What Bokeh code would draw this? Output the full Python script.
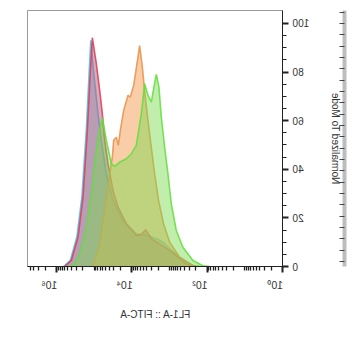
from bokeh.plotting import figure
from bokeh.models import (FixedTicker, LinearAxis, Range1d)
from bokeh.embed import file_html
from bokeh.resources import INLINE

# ---- data (FL1-A intensity, % of mode) ----
cyan_x = [6.5e5, 4.3e5, 2.88e5, 2.12e5, 1.62e5, 1.35e5, 1.23e5, 1.07e5, 7.9e4, 6.5e4,
          4.75e4, 3.16e4, 1.72e4, 7.62e3, 4.13e3, 2.24e3, 1.49e3, 990, 540, 239, 158]
cyan_y = [0, 2.5, 12.1, 28.5, 56, 80.7, 93, 82, 62.8, 51.9,
          38.1, 27.2, 18.9, 13.4, 12.8, 11.4, 10, 7.3, 3.8, 0.4, 0]

red_x = [6.05e5, 4.04e5, 2.69e5, 1.98e5, 1.52e5, 1.26e5, 1.12e5, 8.77e4, 7.14e4, 6.07e4,
         5.26e4, 4.30e4, 3.16e4, 2.33e4, 1.40e4, 7.62e3, 5.61e3, 4.31e3, 3.05e3, 1.83e3,
         990, 359, 195]
red_y = [0, 2.5, 12.1, 28.5, 56, 80.7, 94.1, 83.4, 72.4, 62.8,
         51.9, 42.3, 31.3, 24.4, 17.6, 12.8, 13.2, 15.1, 11.4, 9.3,
         6.6, 1.1, 0]

orange_x = [1.07e5, 7.14e4, 4.75e4, 3.88e4, 3.30e4, 3.04e4, 2.58e4, 2.29e4, 2.02e4, 1.65e4,
            1.27e4, 1.10e4, 8.95e3, 7.31e3, 6.21e3, 5.27e3, 4.49e3, 3.73e3, 3.05e3, 2.48e3,
            1.95e3, 1.44e3, 990, 540, 239, 158]
orange_y = [0, 9.3, 28.5, 38.1, 45, 51.9, 53.2, 49.8, 56, 64.2,
            70.4, 69.7, 74.5, 83.4, 90.9, 82, 71, 60.1, 49.1, 38.1,
            27.2, 17.6, 10, 3.8, 0.3, 0]

green_x = [4.47e5, 3.29e5, 2.43e5, 1.61e5, 1.19e5, 9.70e4, 7.91e4, 6.07e4, 4.75e4, 3.51e4,
           2.86e4, 2.11e4, 1.40e4, 1.03e4, 7.62e3, 5.61e3, 4.57e3, 3.73e3, 3.05e3, 2.59e3,
           2.24e3, 1.91e3, 1.65e3, 1.35e3, 1.10e3, 897, 661, 441, 239, 130, 86]
green_y = [0, 1.1, 5.2, 16.2, 29.9, 42.3, 53.2, 61.2, 51.9, 42.3,
           41.2, 42.9, 44.3, 46.4, 49.8, 62.8, 75.2, 70.4, 67.6, 73.8,
           79, 73.8, 61.4, 49.1, 38.1, 25.8, 14.8, 7.9, 2.5, 0.3, 0]

x_labeled = [1, 100, 1e4, 1e6]
x_label_text = ["10\u2070", "10\u00b2", "10\u2074", "10\u2076"]
x_unlabeled = [10, 1e3, 1e5]
y_major = [0, 20, 40, 60, 80, 100]

series = [
    (cyan_x, cyan_y, "#7fcbe6", "#45bde6", 0.55),
    (red_x, red_y, "#b8587a", "#e03a55", 0.5),
    (orange_x, orange_y, "#f4a460", "#e89048", 0.55),
    (green_x, green_y, "#7ada4c", "#62de3c", 0.46),
]

FONT = "Liberation Sans"
PAD = "\u2007\u2007\u2008"   # puts the label's start at its tick, as in the reference

p = figure(width=359, height=359, x_axis_type="log",
           x_range=Range1d(1, 5.9e6), y_range=Range1d(0, 105.3),
           output_backend="svg", toolbar_location=None,
           min_border_left=76, min_border_right=28, min_border_top=10, min_border_bottom=93,
           background_fill_color="white", border_fill_color="white")
p.styles = {"transform": "scaleX(-1)"}   # the reference is a mirrored picture
p.grid.visible = False
p.outline_line_color = "#9a9a9a"
p.outline_line_width = 1

for xs, ys, fc, lc, fa in series:
    p.varea(x=xs, y1=[0] * len(xs), y2=ys, fill_color=fc, fill_alpha=fa)
    p.line(x=xs, y=ys, line_color=lc, line_width=1.6, line_alpha=0.85)

minor = list(x_unlabeled)
for k in range(0, 7):
    for m in range(2, 10):
        v = m * 10 ** k
        if v < 5.9e6:
            minor.append(v)

xa = p.xaxis[0]
xa.ticker = FixedTicker(ticks=x_labeled, minor_ticks=minor)
xa.major_label_overrides = {t: PAD + s for t, s in zip(x_labeled, x_label_text)}
xa.axis_label = "FL1-A :: FITC-A"
xa.axis_label_text_font = FONT
xa.axis_label_text_font_style = "normal"
xa.axis_label_text_font_size = "10px"
xa.axis_label_text_color = "#333333"
xa.axis_label_standoff = 15
xa.major_label_text_font = FONT
xa.major_label_text_font_size = "10.5px"
xa.major_label_text_color = "#333333"
xa.major_label_standoff = 6
xa.major_tick_out = 6
xa.major_tick_in = 0
xa.minor_tick_out = 4
xa.minor_tick_in = 0
xa.major_tick_line_width = 2
xa.minor_tick_line_width = 1.3
xa.axis_line_color = "#222222"
xa.major_tick_line_color = "#222222"
xa.minor_tick_line_color = "#222222"

ya = p.yaxis[0]
ya.ticker = FixedTicker(ticks=y_major, minor_ticks=[v for v in range(0, 105, 5) if v % 20])
ya.axis_label = "Normalized To Mode"
ya.axis_label_text_font = FONT
ya.axis_label_text_font_style = "normal"
ya.axis_label_text_font_size = "10px"
ya.axis_label_text_color = "#333333"
ya.axis_label_standoff = 18
ya.major_label_text_font = FONT
ya.major_label_text_font_size = "10px"
ya.major_label_text_color = "#333333"
ya.major_label_standoff = 4
ya.major_tick_out = 6
ya.major_tick_in = 0
ya.minor_tick_out = 4
ya.minor_tick_in = 0
ya.major_tick_line_width = 2
ya.axis_line_color = "#222222"
ya.major_tick_line_color = "#222222"
ya.minor_tick_line_color = "#222222"

# invisible spacer, then the ruler strip at the outer edge
spacer = LinearAxis(ticker=FixedTicker(ticks=[50]), major_tick_out=0, minor_tick_out=0,
                    major_tick_in=0, minor_tick_in=0, axis_line_color=None,
                    major_tick_line_color=None, minor_tick_line_color=None,
                    major_label_text_color=None, major_label_text_font_size="1px",
                    major_label_standoff=0)
p.add_layout(spacer, "left")

p.extra_y_ranges = {"ruler": Range1d(0.312, 4.827)}
ruler_marks = [i / 5 for i in range(2, 25)]
ruler = LinearAxis(y_range_name="ruler",
                   ticker=FixedTicker(ticks=[], minor_ticks=ruler_marks),
                   axis_line_color="#bdbdbd", axis_line_width=4,
                   major_tick_in=0, major_tick_out=0, minor_tick_in=5, minor_tick_out=0,
                   minor_tick_line_color="#444444")
p.add_layout(ruler, "left")

open("out.html", "w").write(file_html(p, INLINE))
